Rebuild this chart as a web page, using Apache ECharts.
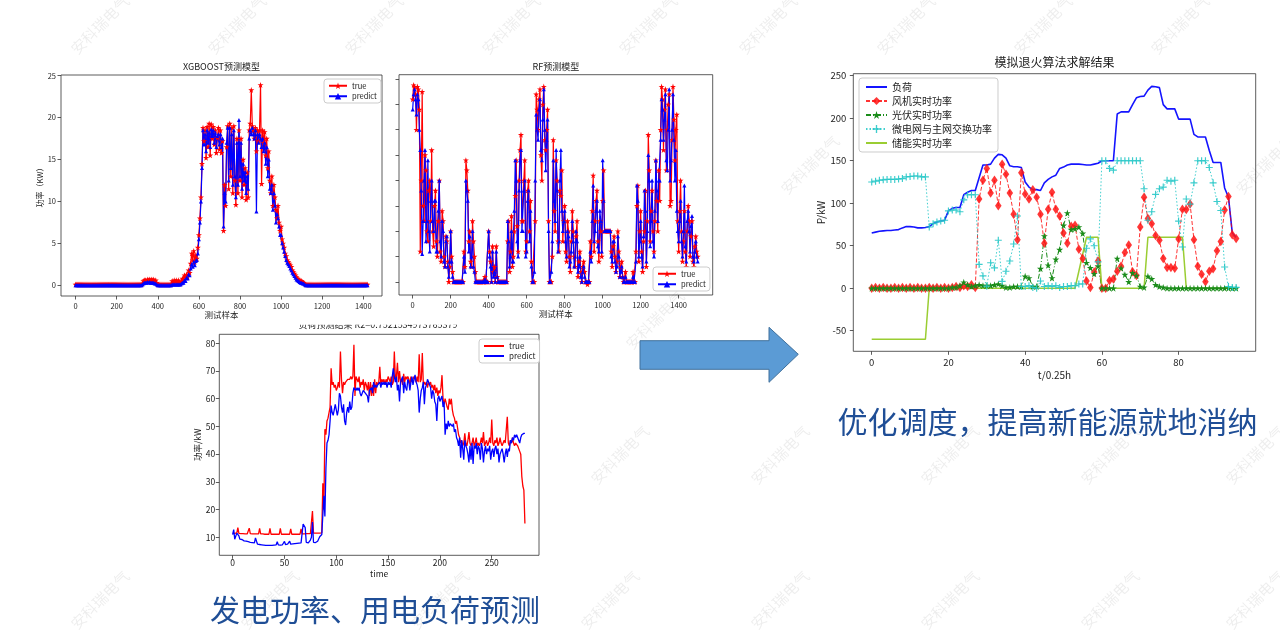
<!DOCTYPE html>
<html><head><meta charset="utf-8">
<script src="https://cdn.jsdelivr.net/npm/echarts@6/dist/echarts.min.js"></script>
<style>html,body{margin:0;padding:0;background:#fff}#c{width:1280px;height:642px}</style>
</head><body><div id="c"></div>
<script>
// ---------------- DATA ----------------
// XGBOOST (sampled every 5 test samples)
const XGB_STEP = 5;
const xgbTrue = [
0.1,0.1,0.1,0.1,0.1,0.1,0.1,0.1,0.1,0.1,0.1,0.1,0.1,0.1,0.1,0.1,0.1,0.1,0.1,0.1,
0.1,0.1,0.1,0.1,0.1,0.1,0.1,0.1,0.1,0.1,0.1,0.1,0.1,0.1,0.1,0.1,0.1,0.1,0.1,0.1,
0.1,0.1,0.1,0.1,0.1,0.1,0.1,0.1,0.1,0.1,0.1,0.1,0.1,0.1,0.1,0.1,0.1,0.1,0.1,0.1,
0.1,0.1,0.1,0.1,0.1,0.2,0.5,0.6,0.6,0.5,0.7,0.6,0.7,0.6,0.7,0.6,0.7,0.5,0.6,0.3,
0.1,0.1,0.1,0.1,0.1,0.1,0.1,0.1,0.1,0.1,0.1,0.1,0.1,0.1,0.5,0.3,0.6,0.4,0.6,0.3,
0.6,0.4,0.2,0.5,0.8,0.6,1.2,0.9,1.3,1.0,1.8,1.5,2.6,3.8,3.0,4.1,2.8,3.6,3.2,4.5,
6.0,8.0,10.5,14.5,18.8,17.2,18.5,15.2,18.9,16.5,19.3,15.5,19.2,17.5,18.9,16.8,18.5,15.8,17.6,18.8,
16.2,18.5,15.8,17.2,6.5,12.0,9.5,16.5,19.0,11.5,19.3,13.0,18.8,11.0,19.0,12.5,9.6,17.5,11.0,18.5,
12.5,17.5,10.5,15.0,12.0,14.0,10.2,13.5,10.5,18.5,19.3,23.3,19.0,18.5,17.5,18.8,16.0,18.5,17.2,18.5,
23.9,12.1,18.5,17.0,18.3,15.5,17.5,14.0,16.0,12.5,11.0,13.0,9.5,12.0,10.5,9.0,8.0,9.5,7.5,6.5,
7.0,5.5,5.0,4.5,3.8,3.5,3.0,2.8,2.6,2.4,2.2,1.8,1.6,1.4,1.2,1.0,0.8,0.7,0.6,0.5,
0.5,0.4,0.3,0.2,0.1,0.1,0.1,0.1,0.1,0.1,0.1,0.1,0.1,0.1,0.1,0.1,0.1,0.1,0.1,0.1,
0.1,0.1,0.1,0.1,0.1,0.1,0.1,0.1,0.1,0.1,0.1,0.1,0.1,0.1,0.1,0.1,0.1,0.1,0.1,0.1,
0.1,0.1,0.1,0.1,0.1,0.1,0.1,0.1,0.1,0.1,0.1,0.1,0.1,0.1,0.1,0.1,0.1,0.1,0.1,0.1,
0.1,0.1,0.1,0.1,0.1];
const xgbPred = [
0,0,0,0,0,0,0,0,0,0,0,0,0,0,0,0,0,0,0,0,
0,0,0,0,0,0,0,0,0,0,0,0,0,0,0,0,0,0,0,0,
0,0,0,0,0,0,0,0,0,0,0,0,0,0,0,0,0,0,0,0,
0,0,0,0,0,0.1,0.2,0.3,0.3,0.3,0.4,0.3,0.4,0.3,0.3,0.3,0.3,0.2,0.2,0.1,
0,0,0,0,0,0,0,0,0,0,0,0,0,0,0.1,0.1,0.1,0.1,0.1,0.1,
0.1,0.1,0.1,0.2,0.3,0.3,0.6,0.5,0.9,0.8,1.3,1.2,2.0,2.5,2.2,2.8,2.4,2.9,3.0,3.8,
5.5,7.5,10.0,14.0,18.5,16.8,18.0,16.0,18.5,17.0,18.2,16.5,18.6,17.8,18.5,17.0,18.2,16.5,17.8,18.0,
16.8,18.0,16.5,17.5,7.0,11.0,10.0,17.0,18.8,12.5,18.8,14.0,18.0,12.0,18.5,13.0,10.5,17.0,12.0,19.7,
13.0,17.0,11.5,14.5,12.5,13.5,11.0,13.0,11.5,17.5,18.5,18.0,18.8,18.0,17.5,18.5,8.8,18.0,17.0,18.0,
17.5,16.5,17.5,16.0,17.0,14.5,16.5,13.0,15.0,11.5,11.0,12.0,9.0,11.0,9.5,7.5,8.5,8.0,7.0,6.0,
6.0,5.0,4.5,4.0,3.5,3.0,2.7,2.5,2.3,2.0,1.8,1.5,1.3,1.1,0.9,0.7,0.6,0.5,0.4,0.3,
0.3,0.2,0.2,0.1,0,0,0,0,0,0,0,0,0,0,0,0,0,0,0,0,
0,0,0,0,0,0,0,0,0,0,0,0,0,0,0,0,0,0,0,0,
0,0,0,0,0,0,0,0,0,0,0,0,0,0,0,0,0,0,0,0,
0,0,0,0,0];

// RF (sampled every 5 test samples)
const RF_STEP = 5;
const rfTrue = [
36,38.8,38.5,37,30,38.5,38,34,6,20,37.5,15,12,25,22,10,8,18,20,12,
26,10,7,15,18,8,5,12,20,6,4,14,12,5,3,9,8,4,0,3,
10,5,2,0,0,0,0,0,0,0,0,0,0,0,6,3,24,22,18,8,
10,4,3,12,8,5,2,0,0,0,0,0,0,0,0,0,1,0,0,0,
10,6,4,0,7,2,3,0,7,1,0,0,0,0,0,0,0,0,0,0,
8,12,2,6,13,3,5,10,17,24,11,6,20,26,29,12,12,20,24,6,
8,18,20,10,16,4,0,0,0,12,37,34,30,36,38,25,20,35,38.5,28,
26,30,34,12,0,0,0,5,28,14,10,24,20,8,6,18,17,22,8,12,
15,6,4,12,10,5,2,8,14,10,5,3,9,12,1,4,6,2,0,3,
4,2,0,0,-0.5,0,0,8,5,14,21,6,12,16,18,8,4,12,10,5,
16,22,10,10,10,10,10,10,10,6,3,7,9,5,2,4,10,6,1,3,
4,1,0,0,2,0,0,0,0,0,0,0,2,0,0,6,15,19,4,10,
14,6,2,8,10,18,3,12,29,22,8,14,18,10,6,12,24,16,10,22,
16,30,38.5,36,26,34,38,22,30,35,37,15,16,28,38.5,32,24,30,33,12,
6,14,20,10,4,8,14,6,3,10,15,12,5,9,12,4,3,7,9,6,
5];
const rfPred = [
34,37,38,36,33,37,36,30,26,18,5.5,12,20,26,8,12,24,10,6,16,
20,12,10,16,16,6,6,14,20,8,5,12,10,4,3,8,9,3,1,4,
10,4,1,0,0,0,0,0,0,0,0,0,0,0,5,2,20,18,16,6,
9,3,5,10,3,2,0,0,0,0,0,0,0,0,0,0,0.5,0,0,0,
10,5,3,0,6,1,2,0,6,1,0,0,0,0,0,0,0,0,0,0,
12,8,3,5,10,4,4,14,24,20,8,5,18,24,26,10,10,18,20,5,
6,16,18,8,14,3,0,0,2,20,33,30,28,34,36,26,24,32,38,30,
22,28,32,10,0,0,2,8,24,16,12,26,18,6,8,20,26,14,10,12,
14,8,5,10,9,3,4,6,12,8,3,5,10,8,2,3,5,1,0,2,
3,1,0,0,0,0,0,6,4,12,19,8,10,14,16,7,6,14,12,6,
24,16,10,10,10,10,10,10,10,5,4,8,8,4,2,3,9,5,1,2,
3,1,0,0,1,0,0,0,0,0,0,0,1,0,0,4,19,16,5,8,
12,5,3,9,18,14,4,10,25,20,7,12,20,8,5,14,24,18,12,20,
20,28,36,34,28,32,37,24,22,30,38,20,24,30,37,28,20,26,14,10,
8,12,16,8,5,10,19,7,4,12,14,10,6,11,13,5,4,6,8,5,
4];

// Load prediction (time 0..282)
const loadTrue = [
11.5,11.5,11.4,11.4,11.6,13.5,11.4,11.3,11.3,11.3,
11.3,11.3,11.2,11.2,11.2,11.2,13.3,11.3,11.2,11.2,
11.2,11.2,11.2,11.2,11.2,11.2,13.2,11.2,11.2,11.2,
11.1,11.1,11.1,11.1,11.1,11.1,13.2,11.1,11.1,11.1,
11.1,11.1,11.1,11.1,11.1,11.1,13.2,11.1,11.1,11.1,
11.1,11.1,11.1,11.1,11.1,11.1,13.0,11.1,11.1,11.1,
11.1,11.1,11.1,11.1,11.1,11.1,13.0,11.2,11.2,11.2,
11.3,11.3,11.3,11.3,11.3,11.3,11.3,19.5,11.5,11.5,
11.5,11.5,11.5,11.5,11.5,11.5,11.6,29.5,20.0,49.0,
47,52,53,55,57,71,65,66,64,65,
63,64,66,64,77,67,62,66,65,66,
66,67,67,67,68,67,68,79.5,61,68,
67,66,68,64,66,65,67,63,66,65,
63,66,61,66,61,65,61,67,62,66,
65,66,71.5,65,67,66,67,65,67,66,
68,67,66,68,65,66,77,67,68,73,
66,70,66,67,65,69,66,68,67,68,
67,65,68,66,67,68,67,66,68,66,
76,66,67,76.5,65,66,65,66,64,66,
65,66,64,65,63,65,62,64,61,63,
62,64,68.5,60,58,60,60,57,56,60,
58,60,56,54,53,51,52,52.5,47,46,
44,45,43,44,47.5,44,43,45,48,44,
43,44,46,43,44,46,43,44,43,44,
46,44,48,43,44,45,43,44,46,44,
52.5,44,43,45,44,46,43,44,46,44,
43,44,45,44,44,53.5,44,43,45,44,
46,44,43,44,43.5,43,42,41,40,32,
28.5,27,15];
const loadPred = [
11,12.8,9.3,10,11.5,11.8,10.5,9.3,9,9.2,
8.8,8.7,8.6,8.6,8.5,8.4,8.4,8.2,8.1,8.1,
8.0,8.0,9.8,8.6,7.5,7.4,7.4,7.3,7.3,7.2,
7.2,7.2,7.1,7.1,7.1,7.2,7.1,7.2,7.1,7.2,
7.2,7.2,7.3,8.4,7.3,7.3,7.2,7.3,7.3,7.4,
8.5,7.4,7.4,7.5,7.4,8.6,7.5,7.5,7.6,7.6,
7.7,7.7,7.8,7.8,7.9,7.9,8.0,8.3,14.8,14.5,
13.5,8.2,8.0,8.0,8.1,9.0,10.0,15.5,8.2,8.0,
8.1,8.3,8.6,9.0,10.2,9.5,11.0,10.5,25.0,17.5,
35,44,45,47,52,57.5,55,54,56,58,
58,54,56,62,61,57,55,58,52,50.5,
55,57,55,59,56,57,62,64,64,63,
64,63,64,62,61,62,63,63,62,62,
61,58.7,63,63,64,62,66,64,65,64,
65,65,66,64,66,65,66,65,66,64,
66,65,66,64,68,71,68,66,68,63,
65,59,66,67,68,62,66,64,63,67,
66,63,66,68,65,67,68.6,66,65,63,
55,60,63,64,66,58,64,65,67,66,
66,64,60,63,62,59,58,52,60,61,
59,60,61,57,59,47,51,49,52,50,
51,51,50,51,48,49,46,45,43,46,
38.7,45,42,38,45,43,42,40,37,43,
38,44,36.5,43,42,44,40,43,42,38,
44,42,37,41,43,40,42,41,43,38,
41,42,39,42,43,40,42,37,40,41,
42,40,37,40,42,39,42,41,45,44,
46,45,47,46,47,46,45,44,46,47,
47,47.5,47.5];

// Simulated annealing result (t = 0..95, unit 0.25h)
const saLoad = [65,66,67,67.5,68,68,68.5,69,71,72.5, 72.5,72,71,71,71.5,72.5,76,78,79,80,
91,94,95,95,110,113,115,115,130,145, 145,146,153,157.5,157,153,144,143,143,142,
125,119,116,116,115,124,128,131,133,141, 142.5,145,146,146,146,145.5,145,145,146,147,
150,150,150,150,205,207.5,207.5,207.5,216,224, 225.5,226,233,237.5,237,236,216,211,211,211,
199,199,199,199,181,178,178,178,162,148, 148,148,118,107,65,60];
const saWind = [0,1,0,1,0,0,1,0,1,0, 1,0,1,0,0,1,0,1,0,1,
0,1,2,1,3,2,4,1,105,127, 141,112,127,97,146,134,112,87,57,136,
111,105,116,107,87,53,93,113,93,85, 65,53,73,74,46,35,8.5,1,19,32,
0,0,9,11,20,26,42,51,19.5,15, 72,107,82,76,62,56.5,35,24.5,24.5,23.5,
58,93,92.5,99,57,26,16.5,7.5,20,23, 44,55,92,108,63,58.5];
const saPV = [0,0,0,0,0,0,0,0,0,0, 0,0,0,0,0,0,0,0,0,0,
0,1,1,3,7,4,2,3,4,3, 3,3,4,5,3,1,1,2,2,2,
14,12,2,2,23,61.5,27,12,34,45.5, 74,88.5,69,70,72,64.5,30,24,17,26,
0,0,0,0,35,23.5,16,7.5,18,15, 2,1,14,11,4,2,1,0,0,0,
0,0,0,0,0,0,0,0,0,0, 0,0,0,0,0,0];
const saGrid = [125,126,127,127.5,128,128,128,128.5,129,131, 131.5,132,132,131,131,72,76,78,79,80,
91,92,92,90,104,110,110,110,28,14.5, 2.4,30,24,56.5,8,20,32,52,85,2,
2,3,1,0,8.5,2,3,2,3,1, 2,2,3,3,5,5,47,58,50,31,
150,150,141,139,150,150,150,150,150,150, 150,117,80,90,110.5,117,119,127,126,127,
79,48.5,105,99,124,150,150,150,142,124, 102,91.5,25,2,1,1];
const saStore = [-60,-60,-60,-60,-60,-60,-60,-60,-60,-60, -60,-60,-60,-60,-60,0,0,0,0,0,
0,0,0,0,0,0,0,0,0,0, 0,0,0,0,0,0,0,0,0,0,
0,0,0,0,0,0,0,0,0,0, 0,0,0,0,20,40,60,60,60,60,
0,0,0,0,0,0,0,0,0,0, 0,0,60,60,60,60,60,60,60,60,
60,60,0,0,0,0,0,0,0,0, 0,0,0,0,0,0];

// tick labels
const xgbXTicks = [0,200,400,600,800,1000,1200,1400];
const xgbYTicks = [0,5,10,15,20,25];
const rfXTicks = [0,200,400,600,800,1000,1200,1400];
const rfYTicks = [0,5,10,15,20,25,30,35,40];
const loadXTicks = [0,50,100,150,200,250];
const loadYTicks = [10,20,30,40,50,60,70,80];
const saXTicks = [0,20,40,60,80];
const saYTicks = [-50,0,50,100,150,200,250];

const saNames = ['负荷','风机实时功率','光伏实时功率','微电网与主网交换功率','储能实时功率'];

// ---------------- CHART ----------------
const FONT = "'Noto Sans CJK SC','Noto Sans',sans-serif";
const TXT = '#222';
const STAR = 'path://M0,-10L2.245,-3.09L9.511,-3.09L3.633,1.18L5.878,8.09L0,3.82L-5.878,8.09L-3.633,1.18L-9.511,-3.09L-2.245,-3.09Z';
const PLUS = 'path://M-1,-6L1,-6L1,-1L6,-1L6,1L1,1L1,6L-1,6L-1,1L-6,1L-6,-1L-1,-1Z';

function gridBox(left, top, width, height) {
  return {left, top, width, height, show: true, borderColor: '#333', borderWidth: 0.8,
          backgroundColor: 'rgba(0,0,0,0)', containLabel: false};
}
function ax(gi, min, max, ticks, fs, margin, name, nameGap, nameFs, showLabel) {
  return {
    gridIndex: gi, type: 'value', min, max,
    axisLine: {show: false, onZero: false}, splitLine: {show: false},
    axisTick: {show: true, length: 3.5, lineStyle: {color: '#333', width: 0.8}, customValues: ticks},
    axisLabel: {show: showLabel !== false, customValues: ticks, fontSize: fs, color: TXT, margin,
                fontFamily: FONT, formatter: v => String(v)},
    name, nameLocation: 'middle', nameGap,
    nameTextStyle: {fontSize: nameFs, color: TXT, fontFamily: FONT}
  };
}
const idx = (arr, step) => arr.map((v, i) => [i * step, v]);
const noSym = {opacity: 0};

const option = {
  animation: false,
  backgroundColor: '#fff',
  textStyle: {fontFamily: FONT},
  grid: [
    gridBox(61, 75, 321, 221),
    gridBox(399, 74.7, 313.7, 220.3),
    gridBox(219.3, 334.3, 319.7, 221),
    gridBox(853.3, 73.7, 402.4, 277.6)
  ],
  xAxis: [
    ax(0, -71, 1491, xgbXTicks, 7.5, 6, '测试样本', 15, 8.5),
    ax(1, -72, 1579, rfXTicks, 7.5, 6, '测试样本', 13.5, 8.5),
    ax(2, -12.9, 295.6, loadXTicks, 8.5, 3, 'time', 14, 8.5),
    ax(3, -4.8, 100.1, saXTicks, 9.5, 6, 't/0.25h', 18.5, 10)
  ],
  yAxis: [
    ax(0, -1.28, 25.08, xgbYTicks, 7.5, 5, '功率（KW）', 15, 8),
    ax(1, -2.6, 40.85, rfYTicks, 7.5, 5, '', 15, 8, false),
    ax(2, 3.5, 83.25, loadYTicks, 8.5, 4, '功率/kW', 15, 8.5),
    ax(3, -74.2, 252.4, saYTicks, 9.5, 7, 'P/kW', 26, 10)
  ],
  legend: [
    {left: 324, top: 79, orient: 'vertical', padding: [3, 4], itemGap: 3, itemWidth: 18, itemHeight: 8,
     backgroundColor: '#fff', borderColor: '#ccc', borderWidth: 1, borderRadius: 3, selectedMode: false,
     textStyle: {fontSize: 7.5, color: TXT, fontFamily: FONT}, data: ['true', 'predict']},
    {left: 653, top: 267, orient: 'vertical', padding: [3, 4], itemGap: 3, itemWidth: 18, itemHeight: 8,
     backgroundColor: '#fff', borderColor: '#ccc', borderWidth: 1, borderRadius: 3, selectedMode: false,
     textStyle: {fontSize: 7.5, color: TXT, fontFamily: FONT}, data: ['true', 'predict']},
    {left: 479, top: 339, orient: 'vertical', padding: [3, 4], itemGap: 2, itemWidth: 20, itemHeight: 8,
     backgroundColor: '#fff', borderColor: '#ccc', borderWidth: 1, borderRadius: 3, selectedMode: false,
     textStyle: {fontSize: 8, color: TXT, fontFamily: FONT},
     data: [{name: 'true', itemStyle: noSym}, {name: 'predict', itemStyle: noSym}]},
    {left: 859, top: 78, orient: 'vertical', padding: [4, 6], itemGap: 4, itemWidth: 21, itemHeight: 10,
     backgroundColor: '#fff', borderColor: '#ccc', borderWidth: 1, borderRadius: 3, selectedMode: false,
     textStyle: {fontSize: 10, color: TXT, fontFamily: FONT},
     data: [{name: saNames[0], itemStyle: noSym}, saNames[1], saNames[2], saNames[3], {name: saNames[4], itemStyle: noSym}]}
  ],
  series: [
    {type: 'line', name: 'true', xAxisIndex: 0, yAxisIndex: 0, data: idx(xgbTrue, XGB_STEP),
     symbol: STAR, symbolSize: 6, showAllSymbol: true,
     lineStyle: {color: '#ff0000', width: 1.2}, itemStyle: {color: '#ff0000'}},
    {type: 'line', name: 'predict', xAxisIndex: 0, yAxisIndex: 0, data: idx(xgbPred, XGB_STEP),
     symbol: 'triangle', symbolSize: 4, showAllSymbol: true,
     lineStyle: {color: '#0000ff', width: 1.2}, itemStyle: {color: '#0000ff'}},
    {type: 'line', name: 'true', xAxisIndex: 1, yAxisIndex: 1, data: idx(rfTrue, RF_STEP),
     symbol: STAR, symbolSize: 6, showAllSymbol: true,
     lineStyle: {color: '#ff0000', width: 1.2}, itemStyle: {color: '#ff0000'}},
    {type: 'line', name: 'predict', xAxisIndex: 1, yAxisIndex: 1, data: idx(rfPred, RF_STEP),
     symbol: 'triangle', symbolSize: 4, showAllSymbol: true,
     lineStyle: {color: '#0000ff', width: 1.2}, itemStyle: {color: '#0000ff'}},
    {type: 'line', name: 'true', xAxisIndex: 2, yAxisIndex: 2, data: idx(loadTrue, 1),
     symbol: 'none', lineStyle: {color: '#ff0000', width: 1.3}, itemStyle: {color: '#ff0000'}},
    {type: 'line', name: 'predict', xAxisIndex: 2, yAxisIndex: 2, data: idx(loadPred, 1),
     symbol: 'none', lineStyle: {color: '#0000ff', width: 1.3}, itemStyle: {color: '#0000ff'}},
    {type: 'line', name: saNames[0], xAxisIndex: 3, yAxisIndex: 3, data: idx(saLoad, 1),
     symbol: 'none', lineStyle: {color: '#1414ff', width: 1.6}, itemStyle: {color: '#1414ff'}},
    {type: 'line', name: saNames[1], xAxisIndex: 3, yAxisIndex: 3, data: idx(saWind, 1),
     symbol: 'diamond', symbolSize: [6.5, 9.5], showAllSymbol: true,
     lineStyle: {color: 'rgba(255,0,0,0.8)', width: 1, type: [4, 2]}, itemStyle: {color: 'rgba(255,20,20,0.85)'}},
    {type: 'line', name: saNames[2], xAxisIndex: 3, yAxisIndex: 3, data: idx(saPV, 1),
     symbol: STAR, symbolSize: 7, showAllSymbol: true,
     lineStyle: {color: '#1a8c1a', width: 1, type: [5, 2, 1, 2]}, itemStyle: {color: '#1a8c1a'}},
    {type: 'line', name: saNames[3], xAxisIndex: 3, yAxisIndex: 3, data: idx(saGrid, 1),
     symbol: PLUS, symbolSize: 7, showAllSymbol: true,
     lineStyle: {color: 'rgba(0,191,191,0.75)', width: 1, type: [1.5, 2]}, itemStyle: {color: 'rgba(40,200,200,0.9)'}},
    {type: 'line', name: saNames[4], xAxisIndex: 3, yAxisIndex: 3, data: idx(saStore, 1),
     symbol: 'none', lineStyle: {color: '#9acd32', width: 1.5}, itemStyle: {color: '#9acd32'}}
  ],
  graphic: []
};

// titles, captions, arrow
const g = option.graphic;
function txt(x, y, text, size, color, extra) {
  g.push(Object.assign({type: 'text', x, y, z: 20,
    style: {text, fill: color, font: size + 'px ' + FONT, align: 'center', verticalAlign: 'middle'}}, extra || {}));
}
// watermarks
const wmRows = [
  {y: 25, xs: [100, 237, 374, 511, 648, 768, 906, 1043, 1180]},
  {y: 165, xs: [810, 1265]},
  {y: 320, xs: [655]},
  {y: 455, xs: [620, 780, 950, 1110, 1255]},
  {y: 600, xs: [100, 270, 440, 610, 780, 950, 1110, 1255]}
];
wmRows.forEach(r => r.xs.forEach(x => {
  g.push({type: 'text', x, y: r.y, rotation: Math.PI / 4, z: 1,
    style: {text: '安科瑞电气', fill: 'rgba(0,0,0,0.07)', font: '15px ' + FONT, align: 'center', verticalAlign: 'middle'}});
}));
txt(221.5, 66.7, 'XGBOOST预测模型', 9, TXT);
txt(555.8, 66.7, 'RF预测模型', 9, TXT);
txt(1054.5, 62.7, '模拟退火算法求解结果', 12, TXT);
txt(378, 324.5, '负荷预测结果 R2=0.7521534973765379', 9, TXT);
g.push({type: 'rect', z: 30, shape: {x: 280, y: 319.5, width: 200, height: 5.3}, style: {fill: '#fff'}});
g.push({type: 'polygon', z: 20, shape: {points: [[640, 340.7], [769, 340.7], [769, 327.3], [798.3, 354.3], [769, 382.3], [769, 369.3], [640, 369.3]]},
  style: {fill: '#5B9BD5', stroke: '#41719C', lineWidth: 1}});
txt(375, 610, '发电功率、用电负荷预测', 30, '#1F4E96');
txt(1047.5, 421.7, '优化调度，提高新能源就地消纳', 30, '#1F4E96');

const chart = echarts.init(document.getElementById('c'), null, {renderer: 'canvas'});
chart.setOption(option);
</script>
</body></html>
